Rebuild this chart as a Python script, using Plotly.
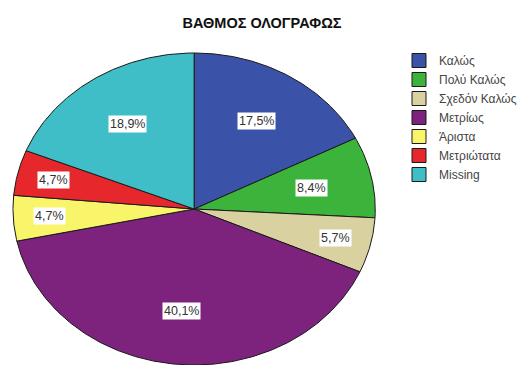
import numpy as np
import plotly.graph_objects as go

# Grade distribution (percent of cases), clockwise from 12 o'clock
categories = ["Καλώς", "Πολύ Καλώς", "Σχεδόν Καλώς", "Μετρίως", "Άριστα", "Μετριώτατα", "Missing"]
percents = [17.5, 8.4, 5.7, 40.1, 4.7, 4.7, 18.9]
colors = ["#3A53A8", "#3CB43C", "#D9D2A0", "#7D237D", "#F8F56A", "#E6282D", "#40BEC8"]

W, H = 522, 365
# pie centre and radii in pixels; the axes are scaled so one data unit equals RX / RY pixels
CX, CY, RX, RY = 194.5, 209.0, 181.5, 156.0
FONT = "Liberation Sans, Arial, sans-serif"

fig = go.Figure()

total = sum(percents)
start = 0.0
for name, pct, col in zip(categories, percents, colors):
    frac = pct / total
    a0, a1 = start * 2 * np.pi, (start + frac) * 2 * np.pi
    n = max(int(np.degrees(a1 - a0) * 2), 4)
    t = np.linspace(a0, a1, n)
    xs = np.concatenate([[0.0], np.sin(t), [0.0]])
    ys = np.concatenate([[0.0], np.cos(t), [0.0]])
    fig.add_trace(go.Scatter(
        x=xs, y=ys, mode="lines", fill="toself", fillcolor=col,
        line=dict(color="#1a1a1a", width=1), showlegend=False, hoverinfo="skip",
    ))

    # percentage label, pushed further out for thin slices
    mid = (a0 + a1) / 2
    r = 0.8 if frac < 0.06 else 0.66
    fig.add_annotation(
        x=r * np.sin(mid), y=r * np.cos(mid), xref="x", yref="y",
        text=f"{pct:.1f}".replace(".", ",") + "%", showarrow=False,
        font=dict(family=FONT, size=12.5, color="#333333"),
        bgcolor="white", borderpad=1,
    )
    start += frac

# legend entries with square swatches
for name, col in zip(categories, colors):
    fig.add_trace(go.Scatter(
        x=[None], y=[None], mode="markers", name=name,
        marker=dict(symbol="square", size=14, color=col, line=dict(color="#1a1a1a", width=1)),
    ))

fig.update_layout(
    width=W, height=H,
    margin=dict(l=0, r=0, t=0, b=0),
    paper_bgcolor="white", plot_bgcolor="white",
    xaxis=dict(range=[-CX / RX, (W - CX) / RX], visible=False, fixedrange=True),
    yaxis=dict(range=[(CY - H) / RY, CY / RY], visible=False, fixedrange=True),
    title=dict(
        text="<b>ΒΑΘΜΟΣ ΟΛΟΓΡΑΦΩΣ</b>", x=262 / W, xanchor="center",
        yref="container", y=1 - 23 / H, yanchor="middle",
        font=dict(family=FONT, size=14.5, color="#111111"),
    ),
    legend=dict(
        x=400 / W, y=1 - 46 / H, xanchor="left", yanchor="top",
        font=dict(family=FONT, size=12, color="#444444"),
        itemwidth=30, tracegroupgap=0, bgcolor="rgba(0,0,0,0)",
    ),
    showlegend=True,
)

fig.write_html("out.html")
